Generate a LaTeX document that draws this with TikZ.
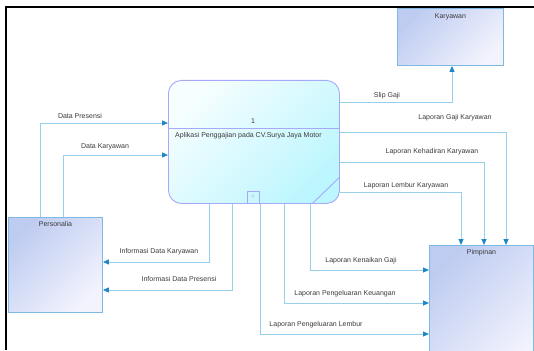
\documentclass[tikz,border=0pt]{standalone}
\usepackage{fontspec}
\setmainfont{Liberation Sans}
\usetikzlibrary{arrows.meta}
\definecolor{flowline}{HTML}{96D0EC}
\definecolor{flowtip}{HTML}{1F86C8}
\definecolor{entline}{HTML}{7DB9E3}
\definecolor{entdark}{HTML}{BFCCF1}
\definecolor{entlight}{HTML}{F2F3FD}
\definecolor{procline}{HTML}{A6A9F7}
\definecolor{proclight}{HTML}{F6FEFF}
\definecolor{procdark}{HTML}{BCF6FE}
\definecolor{labeltext}{HTML}{3A3A3A}
\tikzset{
  entity/.style={draw=entline, line width=0.9pt, top color=entdark, bottom color=entlight,
    shading angle=45, anchor=north west, inner sep=0pt},
  process/.style={draw=procline, line width=0.9pt, rounded corners=13pt, top color=proclight,
    bottom color=procdark, shading angle=45, anchor=north west, inner sep=0pt},
  lbl/.style={font=\fontsize{7}{8}\selectfont, text=labeltext, inner sep=1pt},
  flow/.style={draw=flowline, line width=1pt, -{Triangle[length=6pt,width=5pt,color=flowtip]}},
}
\begin{document}
\begin{tikzpicture}[x=1pt,y=-1pt]
\useasboundingbox (0,0) rectangle (534,350);
\clip (0,0) rectangle (534,350);
% entities and process
\node[entity, minimum width=106, minimum height=57,
  label={[lbl, name=karlbl, anchor=north, yshift=-4pt]north:Karyawan}] (kar) at (397,8) {};
\node[entity, minimum width=94, minimum height=95,
  label={[lbl, name=perslbl, anchor=north, yshift=-3pt]north:Personalia}] (pers) at (8,217) {};
\node[entity, minimum width=104, minimum height=130,
  label={[lbl, name=pimlbl, anchor=north, yshift=-3pt]north:Pimpinan}] (pim) at (429,245) {};
\node[process, minimum width=171, minimum height=123] (proc) at (168,80) {};
\coordinate (divide) at (0,128);
\draw[procline, line width=0.9pt] (proc.west |- divide) -- (proc.east |- divide);
\node[lbl] (procnum) at (253,121) {1};
\node[lbl, anchor=west] (procname) at (174,136) {Aplikasi Penggajian pada CV.Surya Jaya Motor};
\node[draw=procline, line width=0.7pt, minimum size=12, inner sep=0pt,
  font=\fontsize{6}{6}\selectfont, text=procline] (plus) at (253,197) {+};
\coordinate (bevtop) at (0,177);
\coordinate (bevbot) at (312,0);
\draw[procline, line width=0.9pt] (proc.east |- bevtop) -- (proc.south -| bevbot);

% lanes
\coordinate (dp) at (40,123);
\coordinate (dk) at (63,155);
\coordinate (sg) at (452,102);
\coordinate (lgk) at (506,132);
\coordinate (lkk) at (484,162);
\coordinate (llk) at (461,192);
\coordinate (lkg) at (310,270);
\coordinate (lpk) at (284,303);
\coordinate (lpl) at (260,334);
\coordinate (idk) at (209,262);
\coordinate (idp) at (232,290);

% data flows
\draw[flow] (pers.north -| dp) |- (proc.west |- dp);
\draw[flow] (pers.north -| dk) |- (proc.west |- dk);
\draw[flow] (proc.east |- sg) -| (kar.south -| sg);
\draw[flow] (proc.east |- lgk) -| (pim.north -| lgk);
\draw[flow] (proc.east |- lkk) -| (pim.north -| lkk);
\draw[flow] (proc.east |- llk) -| (pim.north -| llk);
\draw[flow] (proc.south -| lkg) |- (pim.west |- lkg);
\draw[flow] (proc.south -| lpk) |- (pim.west |- lpk);
\draw[flow] (proc.south -| lpl) |- (pim.west |- lpl);
\draw[flow] (proc.south -| idk) |- (pers.east |- idk);
\draw[flow] (proc.south -| idp) |- (pers.east |- idp);

% flow labels
\node[lbl] (dplbl) at (80,116) {Data Presensi};
\node[lbl] (dklbl) at (105,147) {Data Karyawan};
\node[lbl] (sglbl) at (387,96) {Slip Gaji};
\node[lbl] (lgklbl) at (455,118) {Laporan Gaji Karyawan};
\node[lbl] (lkklbl) at (432,152) {Laporan Kehadiran Karyawan};
\node[lbl] (llklbl) at (406,186) {Laporan Lembur Karyawan};
\node[lbl] (lkglbl) at (361,261) {Laporan Kenaikan Gaji};
\node[lbl] (lpklbl) at (345,294) {Laporan Pengeluaran Keuangan};
\node[lbl] (lpllbl) at (316,325) {Laporan Pengeluaran Lembur};
\node[lbl] (idklbl) at (159,252) {Informasi Data Karyawan};
\node[lbl] (idplbl) at (179,279) {Informasi Data Presensi};

% page frame
\draw[line width=2pt] (6,350) |- (534,7);
\end{tikzpicture}
\end{document}
